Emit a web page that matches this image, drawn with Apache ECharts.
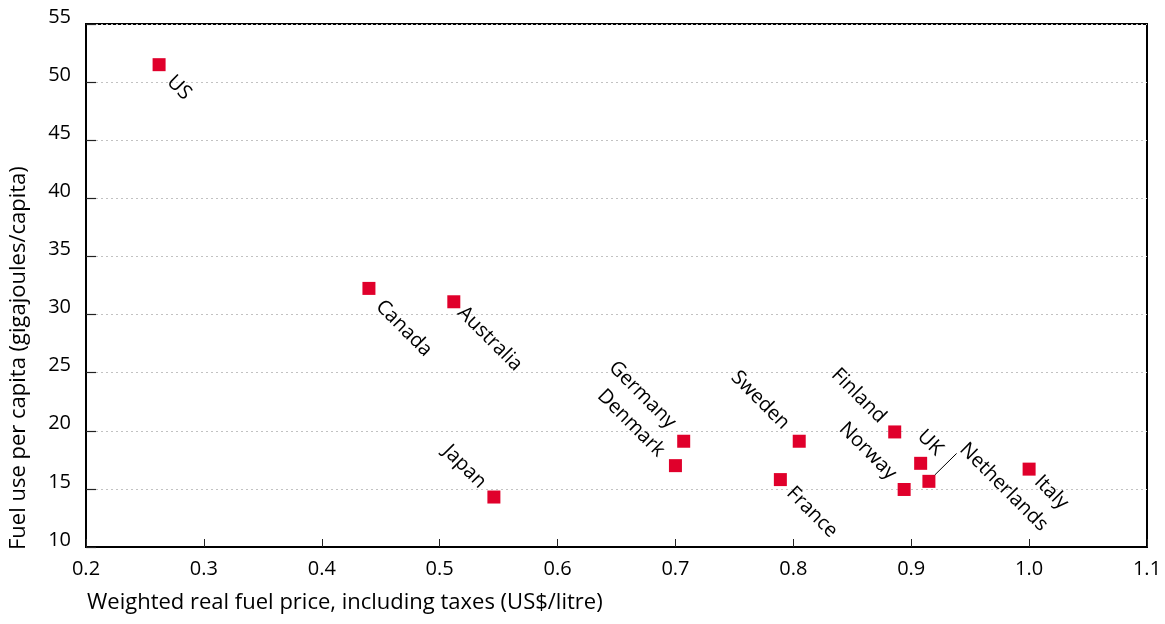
<!DOCTYPE html>
<html>
<head>
<meta charset="utf-8">
<script src="https://cdn.jsdelivr.net/npm/echarts@6/dist/echarts.min.js"></script>
<style>
html,body{margin:0;padding:0;background:#fff;}
#chart{width:1165px;height:624px;}
</style>
</head>
<body>
<div id="chart"></div>
<script>
// ---- data ----
const countries = ['US','Canada','Australia','Japan','Germany','Denmark','Sweden','France','Finland','UK','Norway','Netherlands','Italy'];
const fuelPrice = [0.262,0.440,0.512,0.546,0.707,0.700,0.805,0.789,0.886,0.908,0.894,0.915,1.000];
const fuelUse   = [51.5,32.25,31.1,14.3,19.1,17.0,19.1,15.8,19.9,17.2,14.95,15.65,16.7];
const xTicks = [0.2,0.3,0.4,0.5,0.6,0.7,0.8,0.9,1.0,1.1];
const yTicks = [10,15,20,25,30,35,40,45,50,55];
const leaderStart = [0.920, 16.2];
const leaderEnd   = [0.9385, 18.05];
const xTitle = 'Weighted real fuel price, including taxes (US$/litre)';
const yTitle = 'Fuel use per capita (gigajoules/capita)';

// ---- label placement (style) ----
const labelPlace = {
  'US':          [11, 14, 'left'],
  'Canada':      [10, 15, 'left'],
  'Australia':   [7, 8, 'left'],
  'Japan':       [-11, -12, 'right'],
  'Germany':     [-11, -16, 'right'],
  'Denmark':     [-14, -12, 'right'],
  'Sweden':      [-13, -15, 'right'],
  'France':      [9.5, 10.5, 'left'],
  'Finland':     [-12, -12, 'right'],
  'UK':          [0, -30, 'left'],
  'Norway':      [-11, -13, 'right'],
  'Netherlands': [34, -35, 'left'],
  'Italy':       [8.5, 9.5, 'left']
};

const SYM = 13;
const FONT = 'Open Sans';
const INK = '#000';

const points = countries.map((c, i) => {
  const p = labelPlace[c];
  return {
    name: c,
    value: [fuelPrice[i], fuelUse[i]],
    label: {
      show: true,
      formatter: c,
      position: [SYM/2 + p[0], SYM/2 + p[1]],
      align: p[2],
      verticalAlign: 'middle',
      rotate: -45,
      fontFamily: FONT,
      fontSize: 20,
      color: INK
    }
  };
});

const chart = echarts.init(document.getElementById('chart'));
chart.setOption({
  animation: false,
  backgroundColor: '#fff',
  grid: {
    left: 86, right: 18, top: 24, bottom: 77,
    show: true, borderColor: '#000', borderWidth: 2, backgroundColor: 'transparent'
  },
  xAxis: {
    type: 'value',
    min: xTicks[0], max: xTicks[xTicks.length - 1], interval: 0.1,
    axisLine: { lineStyle: { color: '#000', width: 2 } },
    axisTick: { show: true, inside: true, length: 8, lineStyle: { color: '#222', width: 1 } },
    splitLine: { show: false },
    axisLabel: {
      fontFamily: FONT, fontSize: 20, color: INK, margin: 12,
      formatter: v => (Math.round(v * 10) / 10).toFixed(1)
    }
  },
  yAxis: {
    type: 'value',
    min: yTicks[0], max: yTicks[yTicks.length - 1], interval: 5,
    axisLine: { lineStyle: { color: '#000', width: 2 } },
    axisTick: { show: true, inside: true, length: 10, lineStyle: { color: '#222', width: 1.2 } },
    splitLine: { show: true, lineStyle: { color: '#c2c2c2', width: 1, type: [2, 3] } },
    axisLabel: {
      fontFamily: FONT, fontSize: 20, color: INK, margin: 15,
      verticalAlign: 'bottom', lineHeight: 14
    }
  },
  graphic: [
    {
      type: 'text', left: 87, top: 592,
      style: { text: xTitle, fontFamily: FONT, fontSize: 22, fill: INK }
    },
    {
      type: 'text', x: 8, y: 550, rotation: Math.PI / 2,
      style: { text: yTitle, fontFamily: FONT, fontSize: 22, fill: INK, textAlign: 'left', textVerticalAlign: 'top' }
    }
  ],
  series: [{
    type: 'scatter',
    symbol: 'rect',
    symbolSize: SYM,
    itemStyle: { color: '#e0002b', opacity: 1 },
    emphasis: { disabled: true },
    data: points,
    markLine: {
      silent: true,
      symbol: 'none',
      label: { show: false },
      lineStyle: { color: '#000', width: 1, type: 'solid', opacity: 1 },
      data: [[{ coord: leaderStart }, { coord: leaderEnd }]]
    }
  }]
});
</script>
</body>
</html>
